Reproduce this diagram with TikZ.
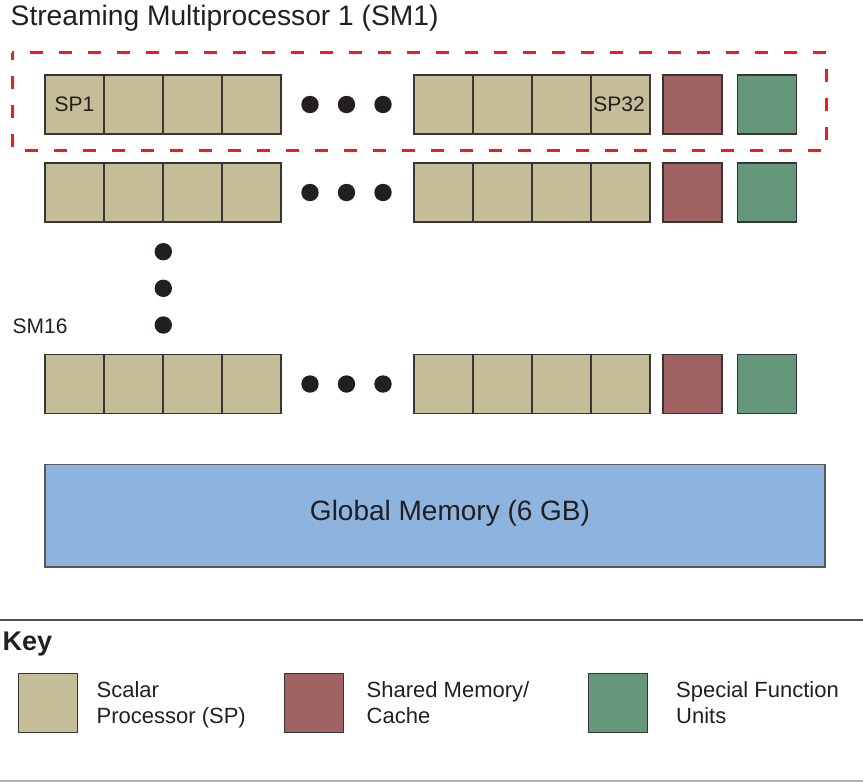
\documentclass[tikz,border=0pt]{standalone}
\usepackage{fontspec}
\setmainfont{Liberation Sans}
\definecolor{tanc}{HTML}{C4BD97}
\definecolor{redc}{HTML}{A06262}
\definecolor{greenc}{HTML}{67977A}
\definecolor{bluec}{HTML}{8DB3DF}
\definecolor{ink}{HTML}{231F20}
\definecolor{dashred}{HTML}{EE1C24}
\tikzset{
  cellbox/.style={draw=ink!90, line width=1.2pt, minimum width=59pt, minimum height=59pt, inner sep=0pt, text=ink, font=\fontsize{21}{25}\selectfont},
  spcell/.style={cellbox, fill=tanc},
  shcell/.style={cellbox, fill=redc},
  sfcell/.style={cellbox, fill=greenc},
  dotmark/.style={circle, fill=ink, draw=none, minimum size=17.4pt, inner sep=0pt},
  lbl/.style={text=ink, inner sep=0pt, font=\fontsize{21}{26}\selectfont},
  keylbl/.style={text=ink, inner sep=0pt, anchor=base west, font=\fontsize{22}{26}\selectfont},
}
\begin{document}
\begin{tikzpicture}[x=1pt, y=-1pt]
\useasboundingbox (0,0) rectangle (863,782);
% title
\node[lbl, anchor=base west, font=\fontsize{28.2}{32}\selectfont] (title) at (10.5,25.5) {Streaming Multiprocessor 1 (SM1)};
% rows
\foreach \r/\yc in {1/104.5, 2/192.5, 3/384} {
  \foreach \i/\xc in {1/74.5, 2/133.5, 3/192.5, 4/251.5, 5/443.5, 6/502.5, 7/561.5, 8/620.5} {
    \node[spcell] (r\r c\i) at (\xc,\yc) {};
  }
  \node[shcell] (r\r sh) at (692.5,\yc) {};
  \node[sfcell] (r\r sf) at (767,\yc) {};
  \node[dotmark] (r\r d1) at (310,\yc) {};
  \node[dotmark] (r\r d2) at (346.5,\yc) {};
  \node[dotmark] (r\r d3) at (383,\yc) {};
}
\node[lbl] at (r1c1) {SP1};
\node[lbl] at ([xshift=-1.5pt]r1c8.center) {SP32};
% vertical dots
\node[dotmark] (v1) at (163.3,251.7) {};
\node[dotmark] (v2) at (163.3,288.3) {};
\node[dotmark] (v3) at (163.3,325) {};
\node[lbl, anchor=base west] (sm16) at (12.5,333) {SM16};
% dashed SM1 box
\draw[dashred, line width=3pt, dash pattern=on 13pt off 16pt, dash phase=6pt] (12,52.5) rectangle (826,150);
% global memory
\node[draw=ink!75, line width=1.5pt, fill=bluec, minimum width=780pt, minimum height=102.5pt, inner sep=0pt] (gm) at (435,515.75) {};
\node[lbl, anchor=base, font=\fontsize{28}{32}\selectfont] (gmtext) at (450,520) {Global Memory (6 GB)};
% key
\draw[ink!80, line width=1.5pt] (0,620) -- (863,620);
\draw[black!30, line width=1.5pt] (0,781) -- (863,781);
\node[lbl, anchor=base west, font=\fontsize{27}{30}\bfseries] (key) at (2.5,650) {Key};
\node[spcell] (k1) at (48,703) {};
\node[shcell] (k2) at (314.3,703) {};
\node[sfcell] (k3) at (618,703) {};
\node[keylbl] (k1a) at (96.5,697.3) {Scalar};
\node[keylbl] (k1b) at (96.5,723.3) {Processor (SP)};
\node[keylbl] (k2a) at (366.5,697.3) {Shared Memory/};
\node[keylbl] (k2b) at (366.5,723.3) {Cache};
\node[keylbl] (k3a) at (676,697.3) {Special Function};
\node[keylbl] (k3b) at (676,723.3) {Units};
\end{tikzpicture}
\end{document}
